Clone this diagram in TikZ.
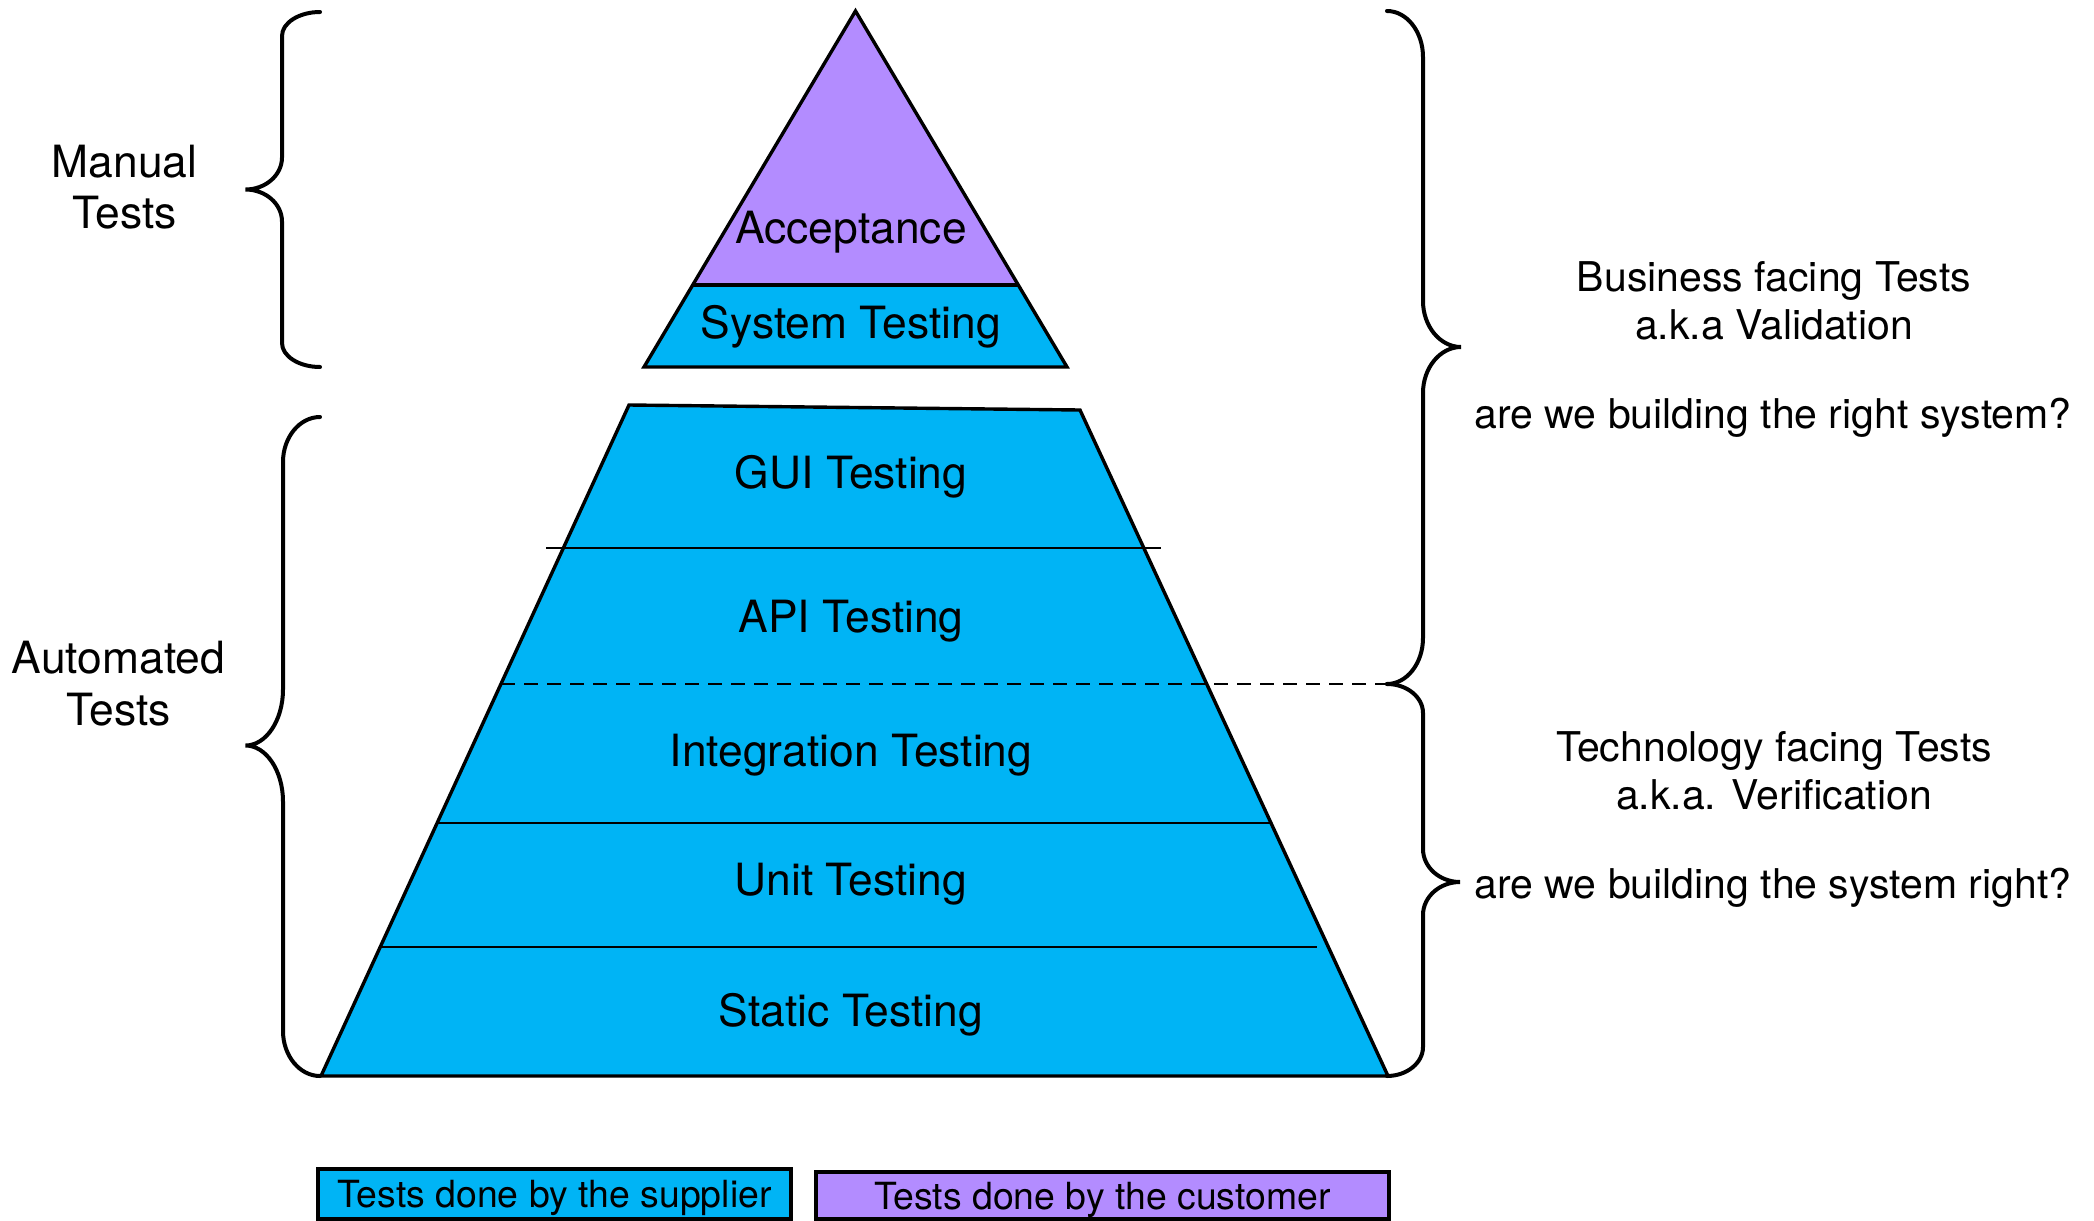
\documentclass[tikz,border=0pt]{standalone}
\usepackage{fontspec}
\setmainfont{TeX Gyre Heros}
\definecolor{supplierblue}{RGB}{0,180,245}
\definecolor{customerpurple}{RGB}{179,140,255}

% Curly brace: #1 end x, #2 spine x, #3 tip x, #4 top y, #5 tip y, #6 bottom y,
% #7 height of the end curves, #8 height of the tip curves
\newcommand{\sidebrace}[8]{%
  \draw[bracestyle] (#1,#4)
    .. controls +({0.55*(#2-#1)},0) and +(0,{-0.55*#7}) .. (#2,{#4+#7})
    -- (#2,{#5-#8})
    .. controls +(0,{0.55*#8}) and +({0.55*(#2-#3)},0) .. (#3,#5)
    .. controls +({0.55*(#2-#3)},0) and +(0,{-0.55*#8}) .. (#2,{#5+#8})
    -- (#2,{#6-#7})
    .. controls +(0,{0.55*#7}) and +({0.55*(#2-#1)},0) .. (#1,#6);}

\begin{document}
\begin{tikzpicture}[x=0.5pt,y=-0.5pt,
  tieroutline/.style={draw=black, line width=1.7pt, line join=miter},
  divider/.style={draw=black, line width=0.85pt},
  dividerdash/.style={draw=black, line width=0.85pt, dash pattern=on 7pt off 4.5pt},
  tierlabel/.style={font=\fontsize{22.2}{26}\selectfont, anchor=base, inner sep=0pt},
  sidelabel/.style={font=\fontsize{22.2}{26}\selectfont, anchor=base, inner sep=0pt},
  notelabel/.style={font=\fontsize{20.5}{24}\selectfont, anchor=base, inner sep=0pt},
  bracestyle/.style={draw=black, line width=2pt, line cap=round},
  legendbox/.style={draw=black, line width=1.6pt, inner sep=0pt,
    font=\fontsize{18.7}{22}\selectfont, text height=13.8pt, text depth=0pt},
]
\useasboundingbox (0,0) rectangle (2094,1221);

% ---- upper pyramid: acceptance on top of system testing
\fill[customerpurple] (855.5,11) -- (1018.3,285) -- (692.7,285) -- cycle;
\fill[supplierblue] (692.7,285) -- (1018.3,285) -- (1067,367) -- (644,367) -- cycle;
\draw[tieroutline] (855.5,11) -- (1067,367) -- (644,367) -- cycle;
\draw[tieroutline] (692.7,285) -- (1018.3,285);

% ---- lower pyramid: automated tiers
\draw[tieroutline, fill=supplierblue] (629,405) -- (1080,410) -- (1388,1076) -- (321,1076) -- cycle;
\draw[divider] (546,548) -- (1161,548);
\draw[dividerdash] (501,684) -- (1387,684);
\draw[divider] (436,823) -- (1272,823);
\draw[divider] (381,947) -- (1317,947);

% ---- tier labels
\node[tierlabel] (acceptance) at (851,243) {Acceptance};
\node[tierlabel] (system)     at (851,338.5) {System Testing};
\node[tierlabel] (gui)        at (851,488) {GUI Testing};
\node[tierlabel] (api)        at (851,632) {API Testing};
\node[tierlabel] (integration) at (851,766) {Integration Testing};
\node[tierlabel] (unit)       at (851,895.5) {Unit Testing};
\node[tierlabel] (static)     at (851,1026.5) {Static Testing};

% ---- braces
\sidebrace{320}{282}{245.5}{12}{189.5}{367}{24}{32}
\sidebrace{320}{283}{245.5}{417}{745.5}{1076}{45}{56}
\sidebrace{1387}{1423}{1461}{11}{347}{684}{46}{46}
\sidebrace{1387}{1423}{1460}{684}{882}{1076}{29}{33}

% ---- left labels
\node[sidelabel] (manual)     at (124.5,177.5) {Manual};
\node[sidelabel] (manualb)    at (124.5,228.5) {Tests};
\node[sidelabel] (automated)  at (118.5,673) {Automated};
\node[sidelabel] (automatedb) at (118.5,725) {Tests};

% ---- right notes
\node[notelabel] (business)   at (1774,291) {Business facing Tests};
\node[notelabel] (validation) at (1774,339.5) {a.k.a Validation};
\node[notelabel] (rightsys)   at (1773,428.5) {are we building the right system?};
\node[notelabel] (technology) at (1774,761) {Technology facing Tests};
\node[notelabel] (verification) at (1774,809) {a.k.a. Verification};
\node[notelabel] (sysright)   at (1773,898.5) {are we building the system right?};

% ---- legend
\node[legendbox, fill=supplierblue, minimum width=236.5pt, minimum height=25pt]
  (legendsupplier) at (554.5,1194) {Tests done by the supplier};
\node[legendbox, fill=customerpurple, minimum width=286.5pt, minimum height=23.5pt]
  (legendcustomer) at (1102.5,1195.5) {Tests done by the customer};
\end{tikzpicture}
\end{document}
